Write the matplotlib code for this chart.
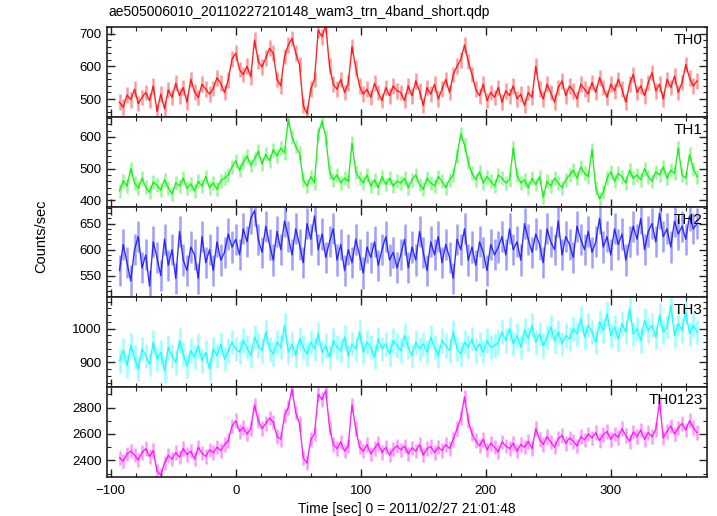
import numpy as np
import matplotlib
matplotlib.use('Agg')
import matplotlib.pyplot as plt
from matplotlib.ticker import MultipleLocator

plt.rcParams['font.family'] = ['Liberation Sans', 'DejaVu Sans']

TITLE = 'ae505006010_20110227210148_wam3_trn_4band_short.qdp'
XLABEL = 'Time [sec] 0 = 2011/02/27 21:01:48'
YLABEL = 'Counts/sec'

# 3 s bins starting at -93 s
T_START = -93
T_BIN = 3

TH0 = [490, 475, 512, 498, 530, 486, 505, 520, 495, 540,
       462, 515, 470, 528, 505,
       548, 510, 535, 490, 560, 522, 505, 545, 530, 515,
       532, 565, 548, 520, 558,
       622, 640,
       590, 575, 600, 568,
       680,
       615, 598, 625,
       655, 640,
       560, 540,
       630, 665, 685,
       640, 605,
       480, 455,
       530, 560,
       710, 690, 725,
       600,
       545, 530, 560, 520, 548,
       660,
       595,
       540, 515, 530, 505, 548, 520, 495, 535, 510, 540, 525,
       520, 495, 540, 510, 555, 525, 480, 535, 515, 545, 500, 530, 560, 520,
       575, 600, 620,
       665,
       615, 575,
       530, 510, 545, 495, 520, 505, 535, 490, 525, 510, 540, 500, 515, 480, 520,
       505,
       600,
       530, 500, 545, 520, 490, 535, 555, 510, 540, 525, 500, 545, 530, 515,
       550, 520, 565, 535, 505, 545, 525, 560, 530, 490, 545, 575, 520, 540, 510,
       550, 580, 525, 545, 500, 560, 535, 570, 520, 550, 605, 565, 540, 555]

TH1 = [430, 462, 445, 500, 455, 438, 470, 442, 425, 458,
       448, 432, 465, 440, 420, 455, 445, 470, 438, 452,
       430, 460, 445, 475, 440, 455, 435, 462, 470, 480,
       505, 525, 495, 520, 540, 510,
       530, 555, 515, 545, 525, 560,
       540, 565, 550,
       655,
       600, 570, 548,
       465, 445, 475, 455,
       610, 650, 600,
       490, 465, 480, 455, 470, 460,
       580,
       490, 470, 455, 480, 445, 465, 440, 475, 450, 470, 445, 460,
       455, 470, 440, 465, 480, 450, 435, 470, 455, 445, 475, 460, 440, 465, 480,
       540, 610, 575, 520,
       485, 465, 490, 455, 475, 460, 445, 480, 470, 455, 465,
       565,
       480, 455, 465, 440, 470, 450, 475, 410, 460, 445, 470, 455, 440, 465,
       480, 495, 470, 505, 485, 475,
       560,
       440, 405, 425,
       470, 490, 460, 485, 475, 455, 495, 470, 480, 465, 500, 475, 460,
       490, 480, 505, 470, 495, 485, 565, 480, 470, 545, 500, 475]

TH2 = [560, 610, 575, 540, 600, 625, 565, 590, 530, 615,
       585, 550, 620, 570, 600, 545, 635, 580, 560, 605,
       590, 545, 625, 575, 600, 560, 615, 580, 595, 630,
       605, 620,
       590, 640, 615, 660, 675, 620, 595, 645, 610, 580,
       635, 600, 655, 625, 590, 640, 610, 575, 650, 620,
       665, 600, 630, 585, 615, 640,
       580, 610, 560, 600, 575, 620, 590, 555, 605, 585,
       615, 570, 600, 625, 580, 595, 565,
       590, 620, 565, 605, 580, 635, 595, 560, 615, 590,
       625, 575, 610, 585, 545, 620, 600, 640, 580, 605,
       570, 615, 595, 560, 610, 590,
       605, 625, 590, 640, 600, 615, 580, 650, 620, 595,
       630, 610, 575, 640, 615, 600, 655, 590, 625, 610,
       585, 645, 620, 600, 635, 595, 615, 660, 605, 625,
       590, 640, 610, 630, 580,
       615, 645, 620, 660, 600, 635, 650, 615, 670, 625,
       640, 605, 655, 630, 645, 620, 665, 640, 650]

TH3 = [905, 935, 890, 950, 915, 880, 940, 920, 895, 960,
       910, 930, 875, 945, 920, 900, 965, 925, 890, 935,
       915, 950, 905, 930, 880, 940, 920, 955, 910, 935,
       960, 940,
       930, 965, 945, 920, 975, 950, 935, 990, 940, 925,
       960, 945, 1010, 930, 955, 920, 970, 945, 925, 960,
       940, 985, 930, 950, 915, 965, 945, 935, 975, 920,
       955, 940, 990, 930, 960, 945, 915, 970, 940, 955,
       925, 965, 950, 935, 980, 945, 920, 960, 940, 955,
       930, 975, 945, 920, 965, 950, 935, 990, 940, 925,
       960, 945, 970, 935, 955, 930, 965, 945, 950,
       960, 990, 965, 1000, 955, 980, 945, 995, 970, 1010,
       960, 985, 950, 975, 1005, 965, 990, 955, 980, 970,
       1000, 985, 1030, 975, 1010, 990, 960, 1020, 995, 1045,
       980, 1005, 970, 1015, 990, 1060, 985, 1000, 965, 1025,
       995, 1010, 975, 1040, 990, 1005, 1070, 980, 1015, 995,
       1050, 985, 1010, 990]

TH0123 = [2420, 2395, 2450, 2470, 2440, 2405, 2460, 2490, 2430, 2475,
          2320, 2290, 2380, 2440, 2410,
          2460, 2425, 2490, 2445, 2470, 2410, 2500, 2455, 2430, 2480,
          2460, 2500, 2475, 2520, 2550,
          2660, 2700,
          2620, 2650, 2600, 2640,
          2820,
          2700, 2640, 2680,
          2720, 2690,
          2580, 2560,
          2740, 2800, 2940,
          2760, 2680,
          2420, 2380,
          2560, 2600,
          2900, 2860, 2930,
          2650,
          2520, 2490, 2540, 2470, 2510,
          2820,
          2640,
          2500, 2470, 2520, 2450, 2490, 2530, 2460, 2500, 2440, 2485, 2510,
          2480, 2510, 2450, 2495, 2470, 2520, 2440, 2490, 2505, 2460, 2500, 2475, 2520, 2490,
          2560, 2640, 2720,
          2880,
          2700, 2600,
          2550, 2510, 2560, 2480, 2530, 2500, 2465, 2540, 2510, 2490, 2530, 2470, 2520, 2500, 2545,
          2490,
          2640,
          2560, 2520, 2580, 2540, 2500, 2565, 2590, 2530, 2570, 2545, 2510, 2580, 2555, 2600,
          2570, 2610, 2550, 2595, 2620, 2560, 2600, 2575, 2640, 2590, 2545, 2615, 2580, 2630, 2560,
          2610, 2580, 2635, 2840, 2570, 2620, 2660, 2600, 2645, 2680, 2630, 2700, 2650, 2610]

# (label, values, error, colour, ylim, major, minor)
PANELS = [
    ('TH0', TH0, 24, '#ff0000', (445, 720), 100, 20),
    ('TH1', TH1, 22, '#00ee00', (379, 663), 100, 20),
    ('TH2', TH2, 30, '#1010ff', (509, 682), 50, 10),
    ('TH3', TH3, 36, '#00ffff', (827, 1094), 100, 20),
    ('TH0123', TH0123, 55, '#ff00ff', (2275, 2955), 200, 100),
]

fig = plt.figure(figsize=(7.17, 5.16), dpi=100)
left, right = 107 / 717, 707 / 717
top, bottom = 1 - 27 / 516, 1 - 477 / 516
h = (top - bottom) / len(PANELS)

axes = []
for k, (label, vals, err, col, ylim, major, minor) in enumerate(PANELS):
    ax = fig.add_axes([left, top - (k + 1) * h, right - left, h])
    vals = np.array(vals, dtype=float)
    t = T_START + T_BIN * np.arange(len(vals))
    ax.vlines(t, vals - err, vals + err, color=col, alpha=0.4, lw=1.8)
    ax.plot(t, vals, color=col, lw=1.0, alpha=0.85)
    ax.set_xlim(-103, 377)
    ax.set_ylim(*ylim)
    ax.xaxis.set_major_locator(MultipleLocator(100))
    ax.xaxis.set_minor_locator(MultipleLocator(20))
    ax.yaxis.set_major_locator(MultipleLocator(major))
    ax.yaxis.set_minor_locator(MultipleLocator(minor))
    ax.tick_params(which='both', direction='in', top=True, right=True,
                   labelsize=9.5, colors='#222222', labelcolor='black', pad=4)
    ax.tick_params(which='major', length=6, width=1.0)
    ax.tick_params(which='minor', length=3, width=0.8)
    for s in ax.spines.values():
        s.set_linewidth(1.2)
        s.set_color('#222222')
    if k < len(PANELS) - 1:
        ax.tick_params(labelbottom=False)
    else:
        ax.tick_params(axis='x', pad=6)
    ax.text(0.993, 0.86, label, transform=ax.transAxes, ha='right', va='center',
            fontsize=11)
    axes.append(ax)

axes[-1].set_xlabel(XLABEL, fontsize=10, labelpad=3)
fig.text(0.058, 1 - 236 / 516, YLABEL, rotation=90, ha='center', va='center',
         fontsize=10.5)
fig.text(left + 0.002, 1 - 12 / 516, TITLE, ha='left', va='center', fontsize=10)

fig.savefig('out.png', dpi=100)
